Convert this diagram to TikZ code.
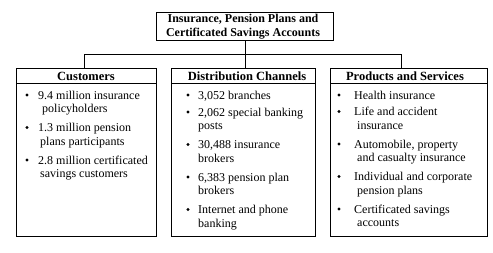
\documentclass[tikz,border=0pt]{standalone}
\usepackage{fontspec}
\setmainfont{Liberation Serif}
\newcommand{\itst}{\rule{0pt}{10pt}}
\begin{document}
\begin{tikzpicture}[x=1pt,y=-1pt,
  box/.style={draw, line width=0.9pt, inner sep=0pt, anchor=north west},
  conn/.style={line width=0.9pt},
  head/.style={font=\fontsize{12.5}{14}\selectfont\bfseries, anchor=base, inner sep=0pt},
  toptext/.style={font=\fontsize{12}{14.3}\selectfont\bfseries, align=center, anchor=north, inner sep=0pt},
  itemtext/.style={font=\fontsize{12}{13.7}\selectfont, align=left, anchor=north west, inner sep=0pt},
  dot/.style={circle, fill, inner sep=0pt, minimum size=3.2pt}]
\useasboundingbox (0,0) rectangle (493,252);

% top box
\node[box, minimum width=177, minimum height=28] (top) at (156,12) {};
\node[toptext] (toptxt) at (243,12) {\itst Insurance, Pension Plans and\\Certificated Savings Accounts};

% category boxes
\node[box, minimum width=140, minimum height=168] (cust) at (16,68) {};
\node[box, minimum width=144, minimum height=168] (dist) at (171,68) {};
\node[box, minimum width=157, minimum height=168] (prod) at (330,68) {};
\foreach \b in {cust,dist,prod}
  \draw[conn] ([yshift=-15pt]\b.north west) -- ([yshift=-15pt]\b.north east);

% headers
\node[head] (custh) at (86,80) {Customers};
\node[head] (disth) at (247,80) {Distribution Channels};
\node[head] (prodh) at (405,80) {Products and Services};

% connectors
\coordinate (jl) at (84,54);
\coordinate (jr) at (401,54);
\draw[conn] (top.south) -- (top.south |- dist.north);
\draw[conn] (jl) -- (jr);
\draw[conn] (jl) -- (jl |- cust.north);
\draw[conn] (jr) -- (jr |- prod.north);

% Customers items
\node[dot] (cb1) at (27,95) {};
\node[itemtext] (ci1) at (38,89) {\itst 9.4 million insurance\\\hspace*{4pt}policyholders};
\node[dot] (cb2) at (27,127.5) {};
\node[itemtext] (ci2) at (38,121.5) {\itst 1.3 million pension\\\hspace*{2pt}plans participants};
\node[dot] (cb3) at (27,160) {};
\node[itemtext] (ci3) at (38,154) {\itst 2.8 million certificated\\\hspace*{2pt}savings customers};

% Distribution items
\node[dot] (db1) at (188,95) {};
\node[itemtext] (di1) at (198,89) {\itst 3,052 branches};
\node[dot] (db2) at (188,112) {};
\node[itemtext] (di2) at (198,106) {\itst 2,062 special banking\\posts};
\node[dot] (db3) at (188,144.5) {};
\node[itemtext] (di3) at (198,138.5) {\itst 30,488 insurance\\brokers};
\node[dot] (db4) at (188,177) {};
\node[itemtext] (di4) at (198,171) {\itst 6,383 pension plan\\brokers};
\node[dot] (db5) at (188,209.5) {};
\node[itemtext] (di5) at (198,203.5) {\itst Internet and phone\\banking};

% Products items
\node[dot] (pb1) at (339,95) {};
\node[itemtext] (pi1) at (354,89) {\itst Health insurance};
\node[dot] (pb2) at (339,111.5) {};
\node[itemtext] (pi2) at (354,105.5) {\itst Life and accident\\\hspace*{3pt}insurance};
\node[dot] (pb3) at (339,144) {};
\node[itemtext] (pi3) at (354,138) {\itst Automobile, property\\\hspace*{3pt}and casualty insurance};
\node[dot] (pb4) at (339,176.5) {};
\node[itemtext] (pi4) at (354,170.5) {\itst Individual and corporate\\\hspace*{3pt}pension plans};
\node[dot] (pb5) at (339,209) {};
\node[itemtext] (pi5) at (354,203) {\itst Certificated savings\\\hspace*{3pt}accounts};
\end{tikzpicture}
\end{document}
